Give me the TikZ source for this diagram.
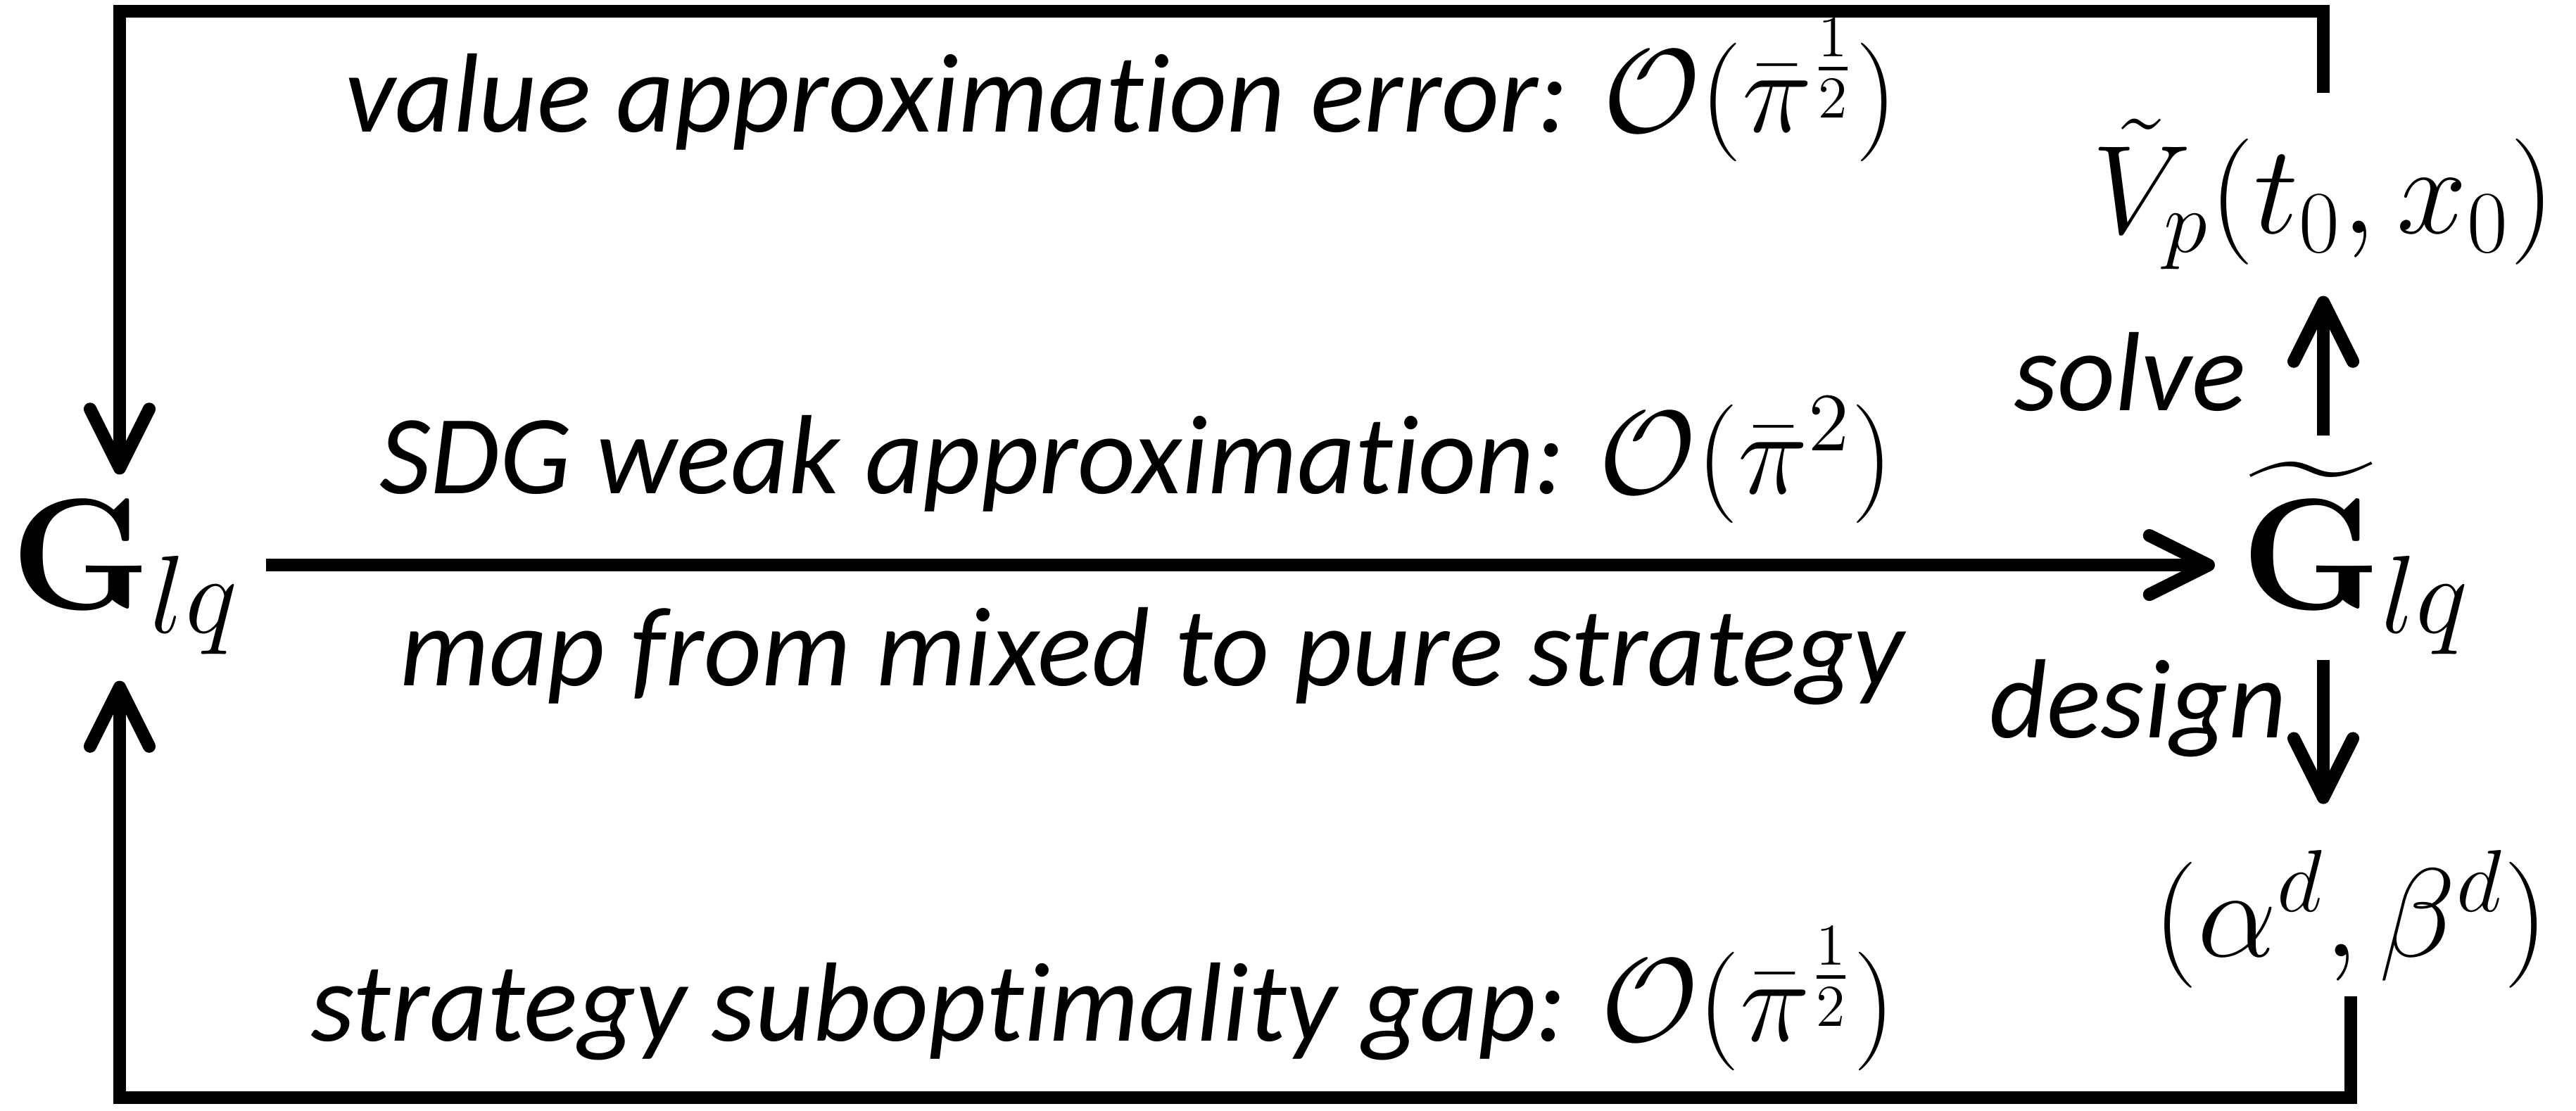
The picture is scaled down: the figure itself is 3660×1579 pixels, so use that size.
\RequirePackage{fix-cm}
\documentclass[tikz,border=0pt]{standalone}
\usepackage{amsmath}
\usepackage[no-math]{fontspec}
\setmainfont[Ligatures=NoCommon]{Carlito}
\usetikzlibrary{positioning}
\usetikzlibrary{arrows.meta}
\newcommand{\ordr}[1]{{\fontsize{24}{28}\selectfont$\mathcal{O}(\bar{\pi}^{#1})$}}
\tikzstyle{lbl} = [font=\fontsize{22.8}{27}\selectfont\itshape, inner sep=0pt]
\tikzstyle{game} = [font=\fontsize{32}{36}\selectfont, inner sep=0.18cm]
\tikzstyle{res} = [font=\fontsize{25.5}{30}\selectfont, inner sep=0.18cm]
\tikzstyle{line} = [draw, line width=2.6pt, -{Straight Barb[length=0.42cm, width=0.42cm, round]}]

\begin{document}
\begin{tikzpicture}[x=0.005cm, y=-0.005cm]
    \useasboundingbox (0,0) rectangle (3660,1579);
    % Place nodes
    \node [game, anchor=base] (glq) at (178,866) {$\mathbf{G}_{lq}$};
    \node [game, anchor=base] (gtil) at (3347,866) {$\widetilde{\mathbf{G}}_{lq}$};
    \node [res, anchor=base] (val) at (3301,332) {$\tilde{V}_p(t_0,x_0)$};
    \node [res, anchor=base, inner sep=0.05cm] (str) at (3340,1360) {$(\alpha^d,\beta^d)$};
    \node [lbl, anchor=base east] (err) at (2698,188) {value approximation error: \ordr{\frac{1}{2}}};
    \node [lbl, anchor=base east] (sdg) at (2692,702) {SDG weak approximation: \ordr{2}};
    \node [lbl, anchor=base east] (map) at (2707,975) {map from mixed to pure strategy};
    \node [lbl, anchor=base east] (gap) at (2695,1479) {strategy suboptimality gap: \ordr{\frac{1}{2}}};
    \node [lbl, anchor=base east] (solve) at (3192,584) {solve};
    \node [lbl, anchor=base east] (design) at (3250,1049) {design};
    \coordinate (tl) at (170,16);
    \coordinate (bl) at (170,1560);
    % arrows
    \path [line] (val.north) |- (tl) -- (tl |- glq.north);
    \path [line] ([yshift=0.315cm]glq.base east) -- ([yshift=0.315cm]gtil.base west);
    \path [line] (gtil.north -| val.south) -- (val.south);
    \path [line, shorten <=-0.15cm, shorten >=0.27cm] (gtil.south -| val.south) -- (str.north -| val.south);
    \path [line] (str.south) |- (bl) -- (bl |- glq.south);
\end{tikzpicture}
\end{document}
